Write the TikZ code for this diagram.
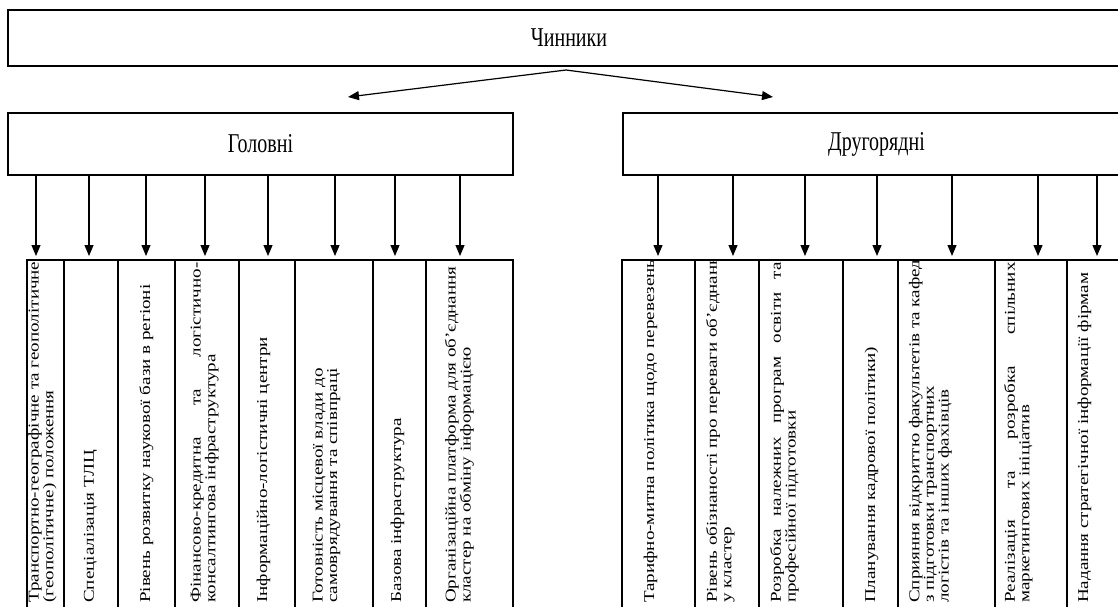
\documentclass[tikz,border=0pt]{standalone}
\usepackage{fontspec}
\setmainfont{Liberation Serif}
\usepackage{graphicx}
\usetikzlibrary{arrows.meta}

\newcommand{\headtext}[1]{\scalebox{1}[1.36]{#1}}
\newcommand{\ftext}[1]{\scalebox{1.27}[1]{\begin{tabular}{@{}l@{}}#1\end{tabular}}}
\newcommand{\jline}[1]{\makebox[268pt][s]{#1}}

\begin{document}
\begin{tikzpicture}[
        x=1pt, y=-1pt,
        box/.style={
          draw, line width=1.3pt, inner sep=0pt,
        },
        arr/.style={
          -{Triangle[length=11pt,width=9pt]}, line width=1.2pt,
        },
        head/.style={
          font=\fontsize{20}{22}\selectfont,
        },
        factor/.style={
          rotate=90, anchor=west, inner sep=0pt,
          font=\fontsize{15}{14.5}\selectfont,
        },
        ]
        \useasboundingbox (0,0) rectangle (1118,606);

        % top level
        \node [box, head, minimum width=1122, minimum height=56] (chynnyky) at (569,38) {\headtext{Чинники}};
        \node [box, head, minimum width=505, minimum height=62] (holovni) at (260.5,144) {\headtext{Головні}};
        \node [box, head, minimum width=507, minimum height=62] (druhoriadni) at (876.5,144) {\headtext{Другорядні}};

        \coordinate (split) at (566,70);
        \coordinate (holovni-tip) at (348,97);
        \coordinate (druhoriadni-tip) at (773,97);
        \draw [arr] (split) -- (holovni-tip);
        \draw [arr] (split) -- (druhoriadni-tip);

        % factor boxes
        \foreach \l/\r [count=\i] in {27/64, 64/118, 118/175, 175/239, 239/295, 295/373, 373/426, 426/513} {
          \pgfmathsetmacro\w{\r-\l}
          \pgfmathsetmacro\c{(\l+\r)/2}
          \node [box, minimum width=\w, minimum height=380] (h\i) at (\c,450) {};
        }
        \foreach \l/\r [count=\i] in {622/695, 695/759, 759/843, 843/898, 898/995, 995/1067, 1067/1140} {
          \pgfmathsetmacro\w{\r-\l}
          \pgfmathsetmacro\c{(\l+\r)/2}
          \node [box, minimum width=\w, minimum height=380] (d\i) at (\c,450) {};
        }

        \foreach \x [count=\i] in {36,89,146,205,268,335,395,460} {
          \coordinate (htip\i) at (\x,256);
          \draw [arr] (holovni.south -| htip\i) -- (htip\i);
        }
        \foreach \x [count=\i] in {658,733,805,877,952,1038,1097} {
          \coordinate (dtip\i) at (\x,256);
          \draw [arr] (druhoriadni.south -| dtip\i) -- (dtip\i);
        }

        % texts, cut at the top of the boxes
        \begin{scope}
          \clip (0,261) rectangle (1118,606);
          \node [factor] (h1t) at (43,603) {\ftext{Транспортно-географічне та геополітичне\\(геополітичне) положення}};
          \node [factor] (h2t) at (91,603) {\ftext{Спеціалізація ТЛЦ}};
          \node [factor] (h3t) at (147,603) {\ftext{Рівень розвитку наукової бази в регіоні}};
          \node [factor] (h4t) at (205,603) {\ftext{\jline{Фінансово-кредитна та логістично-}\\консалтингова інфраструктура}};
          \node [factor] (h5t) at (264,603) {\ftext{Інформаційно-логістичні центри}};
          \node [factor] (h6t) at (327,603) {\ftext{Готовність місцевої влади до\\самоврядування та співпраці}};
          \node [factor] (h7t) at (398,603) {\ftext{Базова інфраструктура}};
          \node [factor] (h8t) at (460,603) {\ftext{Організаційна платформа для об’єднання у\\кластер на обміну інформацією}};

          \node [factor] (d1t) at (651,603) {\ftext{Тарифно-митна політика щодо перевезень}};
          \node [factor] (d2t) at (721,603) {\ftext{Рівень обізнаності про переваги об’єднання\\у кластер}};
          \node [factor] (d3t) at (785,603) {\ftext{\jline{Розробка належних програм освіти та}\\професійної підготовки}};
          \node [factor] (d4t) at (872,603) {\ftext{Планування кадрової політики)}};
          \node [factor] (d5t) at (931,603) {\ftext{Сприяння відкриттю факультетів та кафедр\\з підготовки транспортних\\логістів та інших фахівців}};
          \node [factor] (d6t) at (1019,603) {\ftext{\jline{Реалізація та розробка спільних}\\маркетингових ініціатив}};
          \node [factor] (d7t) at (1085,603) {\ftext{Надання стратегічної інформації фірмам}};
        \end{scope}
      \end{tikzpicture}
\end{document}
